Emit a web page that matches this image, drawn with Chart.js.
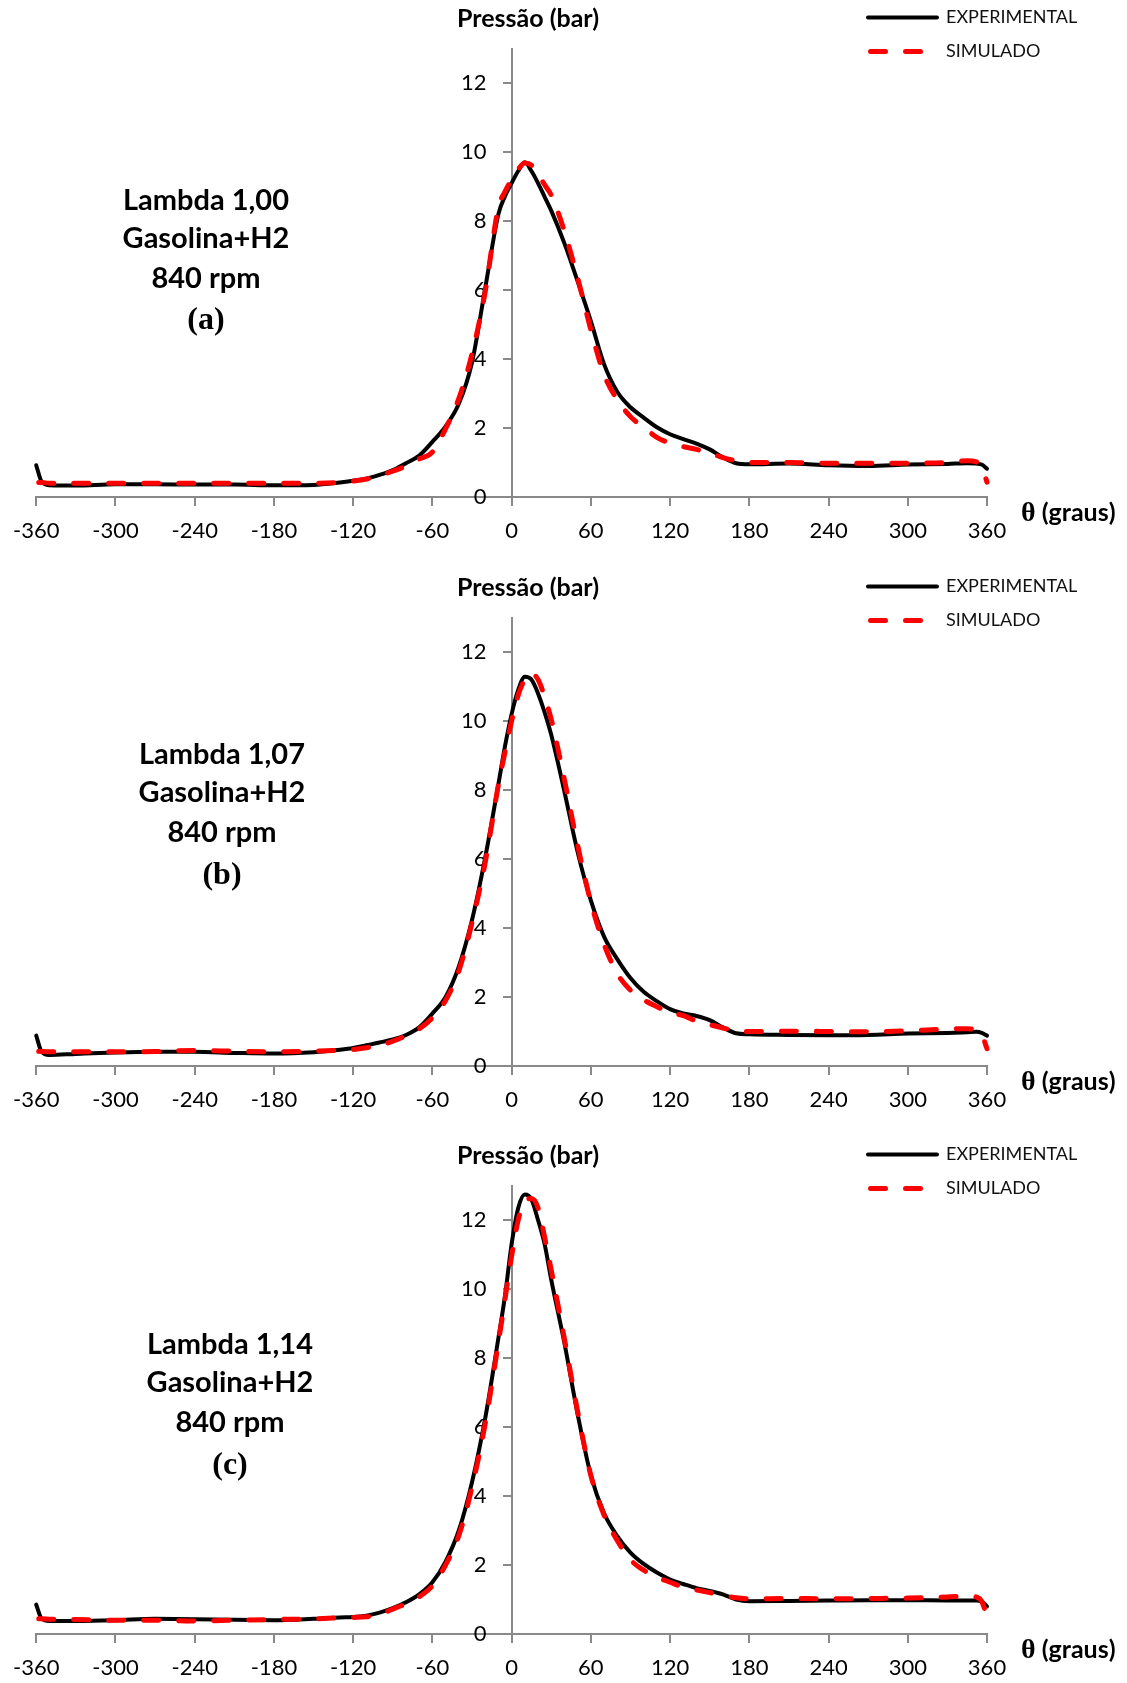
<!DOCTYPE html>
<html>
<head>
<meta charset="utf-8">
<script src="https://cdn.jsdelivr.net/npm/chart.js@4.4.1/dist/chart.umd.min.js"></script>
<style>
  html, body { margin: 0; padding: 0; background: #ffffff; overflow: hidden; }
  #wrap { position: relative; width: 1127px; height: 1683px; background: #ffffff; overflow: hidden; }
  #wrap canvas { position: absolute; left: 0; }
  .t { position: absolute; white-space: nowrap; color: #000; transform: translate(-50%, -50%); line-height: 1; }
  .ann { font: bold 29px Lato, sans-serif; }
  .tag { font: bold 32px "Liberation Serif", "Times New Roman", serif; }
  .ytitle { font: bold 25px Lato, sans-serif; }
  .xtitle { font: bold 25px Lato, sans-serif; transform: translate(0, -50%); }
  .xtitle .th { font: bold 28px "Liberation Serif", "Times New Roman", serif; }
</style>
</head>
<body>
<div id="wrap"></div>
<script>
// ---------------- DATA ----------------
const THETA = [-360, -356, -350, -330, -300, -270, -240, -210, -180, -150,
               -130, -120, -110, -100, -90, -80, -70, -60, -50, -40,
               -30, -20, -10, -5, 0, 5, 10, 15, 20, 25,
               30, 40, 50, 60, 70, 80, 90, 100, 110, 120,
               130, 140, 150, 160, 170, 180, 210, 240, 270, 300,
               330, 345, 352, 356, 360];

// Panel (a) Lambda 1,00
const EXP_A = [0.92, 0.45, 0.34, 0.33, 0.37, 0.37, 0.36, 0.36, 0.34, 0.35,
               0.42, 0.47, 0.53, 0.64, 0.78, 0.98, 1.2, 1.6, 2.05, 2.7,
               3.9, 6.05, 8.2, 8.72, 9.1, 9.45, 9.7, 9.45, 9.1, 8.7,
               8.3, 7.35, 6.25, 5.1, 3.85, 3.05, 2.6, 2.3, 2.02, 1.82,
               1.68, 1.55, 1.38, 1.15, 0.98, 0.95, 0.97, 0.92, 0.9, 0.94,
               0.96, 0.98, 0.97, 0.94, 0.82];
const SIM_A = [0.42, 0.42, 0.4, 0.4, 0.4, 0.4, 0.4, 0.4, 0.4, 0.4,
               0.42, 0.46, 0.52, 0.62, 0.75, 0.9, 1.1, 1.3, 1.98, 2.85,
               4.15, 5.95, 8.4, 8.85, 9.2, 9.5, 9.68, 9.62, 9.35, 9.05,
               8.75, 7.7, 6.35, 4.85, 3.55, 2.82, 2.33, 2.02, 1.73, 1.56,
               1.46, 1.38, 1.28, 1.14, 1.05, 1.0, 1.0, 0.98, 0.98, 0.98,
               1.0, 1.05, 1.02, 0.88, 0.43];

// Panel (b) Lambda 1,07
const EXP_B = [0.88, 0.42, 0.32, 0.35, 0.39, 0.41, 0.41, 0.38, 0.36, 0.4,
               0.47, 0.52, 0.6, 0.68, 0.77, 0.9, 1.12, 1.52, 2.0, 2.88,
               4.23, 6.04, 8.17, 9.27, 10.2, 10.9, 11.28, 11.2, 10.8, 10.25,
               9.6, 7.95, 6.2, 4.8, 3.75, 3.1, 2.55, 2.15, 1.88, 1.65,
               1.52, 1.45, 1.33, 1.12, 0.95, 0.92, 0.9, 0.89, 0.9, 0.94,
               0.96, 0.98, 0.99, 0.96, 0.88];
const SIM_B = [0.43, 0.42, 0.41, 0.41, 0.41, 0.42, 0.45, 0.43, 0.41, 0.43,
               0.46, 0.48, 0.53, 0.6, 0.72, 0.88, 1.08, 1.4, 1.9, 2.75,
               4.15, 5.9, 8.15, 9.1, 10.0, 10.75, 11.2, 11.38, 11.2, 10.7,
               10.05, 8.3, 6.4, 4.75, 3.53, 2.68, 2.2, 1.92, 1.72, 1.55,
               1.46, 1.3, 1.2, 1.1, 1.02, 1.0, 1.01, 1.0, 0.99, 1.02,
               1.07, 1.08, 1.03, 0.92, 0.5];

// Panel (c) Lambda 1,14
const EXP_C = [0.85, 0.45, 0.38, 0.38, 0.4, 0.44, 0.43, 0.41, 0.4, 0.44,
               0.48, 0.49, 0.53, 0.62, 0.75, 0.92, 1.15, 1.5, 2.1, 3.0,
               4.4, 6.25, 8.58, 9.8, 11.3, 12.35, 12.74, 12.6, 12.0, 11.3,
               10.27, 8.43, 6.37, 4.6, 3.5, 2.84, 2.36, 2.03, 1.78, 1.58,
               1.45, 1.33, 1.25, 1.15, 1.0, 0.95, 0.96, 0.97, 0.98, 0.98,
               0.97, 0.97, 0.97, 0.94, 0.8];
const SIM_C = [0.45, 0.44, 0.43, 0.42, 0.4, 0.4, 0.38, 0.4, 0.42, 0.44,
               0.47, 0.48, 0.5, 0.58, 0.72, 0.88, 1.08, 1.4, 2.0, 2.85,
               4.25, 6.1, 8.45, 9.7, 10.95, 12.0, 12.55, 12.62, 12.35, 11.5,
               10.55, 8.55, 6.45, 4.6, 3.45, 2.71, 2.15, 1.85, 1.65, 1.5,
               1.36, 1.28, 1.2, 1.12, 1.05, 1.02, 1.03, 1.02, 1.03, 1.04,
               1.07, 1.1, 1.07, 0.95, 0.5];

const X_TICKS = [-360, -300, -240, -180, -120, -60, 0, 60, 120, 180, 240, 300, 360];
const Y_TICKS = [0, 2, 4, 6, 8, 10, 12];
const SERIES_NAMES = ['EXPERIMENTAL', 'SIMULADO'];
const Y_TITLE = 'Pressão (bar)';
const X_TITLE_SYMBOL = 'θ';
const X_TITLE_REST = ' (graus)';
const LAMBDAS = ['Lambda 1,00', 'Lambda 1,07', 'Lambda 1,14'];
const FUEL = 'Gasolina+H2';
const RPM = '840 rpm';
const TAGS = ['(a)', '(b)', '(c)'];
const EXP_SERIES = [EXP_A, EXP_B, EXP_C];
const SIM_SERIES = [SIM_A, SIM_B, SIM_C];

// ---------------- LAYOUT / STYLE ----------------
const W = 1127;
const PANEL_TOPS = [0, 569, 1137];
const PANEL_HEIGHTS = [569, 568, 546];
const AREA = { top: 48.5, bottom: 497, left: 35, right: 987 };
const AXIS_COLOR = '#898989';
const Y_LABEL_GAP = 25;
const ANN_X = [206, 222, 230];
const ANN_Y = [[197.6, 236.3, 276, 318], [182.5, 221, 261, 304], [204.8, 243.4, 283, 326]];

Chart.defaults.font.family = 'Lato, sans-serif';

const legendMover = {
  id: 'legendMover',
  afterLayout(chart) {
    const lg = chart.legend;
    if (!lg) return;
    const left = 852, top = -7.5, h = 140;
    lg.left = left; lg.top = top;
    lg.right = left + lg.width; lg.bottom = top + h; lg.height = h;
  }
};

// y axis sits at x = 0: keep its labels clear of the axis line, as in the original
const yLabelShift = {
  id: 'yLabelShift',
  beforeDraw(chart) {
    const s = chart.scales.y;
    const items = s.getLabelItems(chart.chartArea);
    if (!items._shifted) {
      items.forEach(it => { it.options.translation[0] -= Y_LABEL_GAP; });
      items._shifted = true;
    }
  }
};

const wrap = document.getElementById('wrap');

function addText(cls, html, x, y) {
  const d = document.createElement('div');
  d.className = 't ' + cls;
  d.innerHTML = html;
  d.style.left = x + 'px';
  d.style.top = y + 'px';
  wrap.appendChild(d);
  return d;
}

function axisCommon(extra) {
  return Object.assign({
    type: 'linear',
    grid: { drawOnChartArea: false, drawTicks: true, tickLength: 8, color: AXIS_COLOR, lineWidth: 2 },
    border: { display: true, color: AXIS_COLOR, width: 2 },
  }, extra);
}

function legendLabels(chart) {
  const items = Chart.defaults.plugins.legend.labels.generateLabels(chart);
  items.forEach(it => {
    const ds = chart.data.datasets[it.datasetIndex];
    it.lineDash = ds.borderDash || [];
    it.lineDashOffset = ds.borderDashOffset || 0;
    it.lineWidth = ds.borderWidth;
    it.lineCap = ds.borderCapStyle;
    it.strokeStyle = ds.borderColor;
    it.fillStyle = ds.borderColor;
  });
  return items;
}

for (let p = 0; p < 3; p++) {
  const cv = document.createElement('canvas');
  cv.width = W; cv.height = PANEL_HEIGHTS[p];
  cv.style.top = PANEL_TOPS[p] + 'px';
  cv.style.width = W + 'px'; cv.style.height = PANEL_HEIGHTS[p] + 'px';
  wrap.appendChild(cv);

  const exp = EXP_SERIES[p], sim = SIM_SERIES[p];
  new Chart(cv, {
    type: 'line',
    data: {
      datasets: [
        {
          label: SERIES_NAMES[0],
          data: THETA.map((t, i) => ({ x: t, y: exp[i] })),
          borderColor: '#000000', backgroundColor: '#000000',
          borderWidth: 4, pointRadius: 0, pointHoverRadius: 0,
          cubicInterpolationMode: 'monotone',
          borderCapStyle: 'round', borderJoinStyle: 'round',
          clip: false, order: 2
        },
        {
          label: SERIES_NAMES[1],
          data: THETA.map((t, i) => ({ x: t, y: sim[i] })),
          borderColor: '#ff0000', backgroundColor: '#ff0000',
          borderWidth: 5, borderDash: [15, 20], borderDashOffset: -2.5,
          borderCapStyle: 'round', borderJoinStyle: 'round',
          pointRadius: 0, pointHoverRadius: 0,
          cubicInterpolationMode: 'monotone',
          clip: false, order: 1
        }
      ]
    },
    options: {
      responsive: false, animation: false, devicePixelRatio: 1,
      events: [],
      layout: { padding: { top: AREA.top, left: AREA.left, right: W - AREA.right, bottom: PANEL_HEIGHTS[p] - AREA.bottom } },
      plugins: {
        legend: {
          position: 'chartArea', align: 'start',
          labels: {
            usePointStyle: true, pointStyle: 'line', pointStyleWidth: 69,
            font: { family: 'Lato, sans-serif', size: 18 }, color: '#111', padding: 16,
            generateLabels: legendLabels,
            sort: (a, b) => a.datasetIndex - b.datasetIndex
          }
        },
        tooltip: { enabled: false },
        title: { display: false }
      },
      scales: {
        x: axisCommon({
          position: { y: 0 }, min: -360, max: 360,
          afterBuildTicks: s => { s.ticks = X_TICKS.map(v => ({ value: v })); },
          ticks: { font: { family: 'Lato, sans-serif', size: 22 }, color: '#000', padding: 13, maxRotation: 0, autoSkip: false, callback: v => String(v) }
        }),
        y: axisCommon({
          position: { x: 0 }, min: 0, max: 13,
          afterBuildTicks: s => { s.ticks = Y_TICKS.map(v => ({ value: v })); },
          ticks: { font: { family: 'Lato, sans-serif', size: 22 }, color: '#000', padding: 14, autoSkip: false, callback: v => String(v) }
        })
      }
    },
    plugins: [legendMover, yLabelShift]
  });

  const top = PANEL_TOPS[p];
  addText('ytitle', Y_TITLE, 528, top + 17);
  addText('xtitle', '<span class="th">' + X_TITLE_SYMBOL + '</span>' + X_TITLE_REST, 1021, top + 512);
  const lines = [LAMBDAS[p], FUEL, RPM];
  lines.forEach((s, k) => addText('ann', s, ANN_X[p], top + ANN_Y[p][k]));
  addText('tag', TAGS[p], ANN_X[p], top + ANN_Y[p][3]);
}
</script>
</body>
</html>
